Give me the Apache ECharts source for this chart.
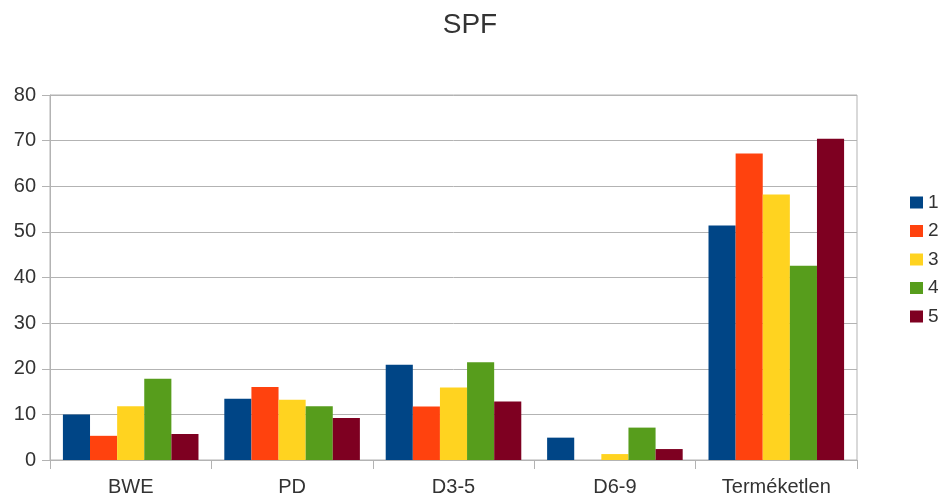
<!DOCTYPE html>
<html>
<head>
<meta charset="utf-8">
<script src="https://cdn.jsdelivr.net/npm/echarts@6/dist/echarts.min.js"></script>
<style>
html,body{margin:0;padding:0;background:#fff;}
#chart{width:940px;height:501px;}
</style>
</head>
<body>
<div id="chart"></div>
<script>
// categories + series
var categories = ['BWE', 'PD', 'D3-5', 'D6-9', 'Terméketlen'];
var s1 = [10.0, 13.4, 20.9, 4.9, 51.4];
var s2 = [5.3, 16.0, 11.7, 0, 67.2];
var s3 = [11.8, 13.2, 15.9, 1.3, 58.2];
var s4 = [17.8, 11.8, 21.4, 7.1, 42.6];
var s5 = [5.7, 9.2, 12.8, 2.4, 70.4];
var seriesNames = ['1', '2', '3', '4', '5'];
var colors = ['#004586', '#ff420e', '#ffd320', '#579d1c', '#7e0021'];

var myChart = echarts.init(document.getElementById('chart'));
var allData = [s1, s2, s3, s4, s5];
var series = [];
for (let i = 0; i < allData.length; i++) {
    series.push({
        name: seriesNames[i],
        type: 'bar',
        barGap: '0%',
        barCategoryGap: '16%',
        itemStyle: {color: colors[i]},
        data: allData[i]
    });
}

var option = {
    animation: false,
    textStyle: {fontFamily: 'Liberation Sans'},
    title: {
        text: 'SPF',
        left: 'center',
        top: 6,
        textStyle: {fontSize: 28, fontWeight: 'normal', color: '#333', fontFamily: 'Liberation Sans'}
    },
    legend: {
        orient: 'vertical',
        left: 905,
        top: 188,
        itemWidth: 13,
        itemHeight: 12,
        itemGap: 9.5,
        itemTextGap: 4,
        icon: 'rect',
        textStyle: {fontSize: 19, color: '#333', fontFamily: 'Liberation Sans'},
        data: seriesNames
    },
    grid: {
        left: 50,
        right: 83,
        top: 95,
        bottom: 41,
        show: true,
        borderColor: '#b3b3b3',
        borderWidth: 1
    },
    xAxis: {
        type: 'category',
        data: categories,
        axisLine: {lineStyle: {color: '#b3b3b3', width: 1}},
        axisTick: {show: true, length: 9, lineStyle: {color: '#b3b3b3'}},
        axisLabel: {fontSize: 20, color: '#333', margin: 17}
    },
    yAxis: {
        type: 'value',
        min: 0,
        max: 80,
        interval: 10,
        axisLine: {show: true, lineStyle: {color: '#b3b3b3'}},
        axisTick: {show: true, length: 8, lineStyle: {color: '#b3b3b3'}},
        axisLabel: {fontSize: 20, color: '#333', margin: 14},
        splitLine: {lineStyle: {color: '#b3b3b3'}}
    },
    series: series
};
myChart.setOption(option);
</script>
</body>
</html>
